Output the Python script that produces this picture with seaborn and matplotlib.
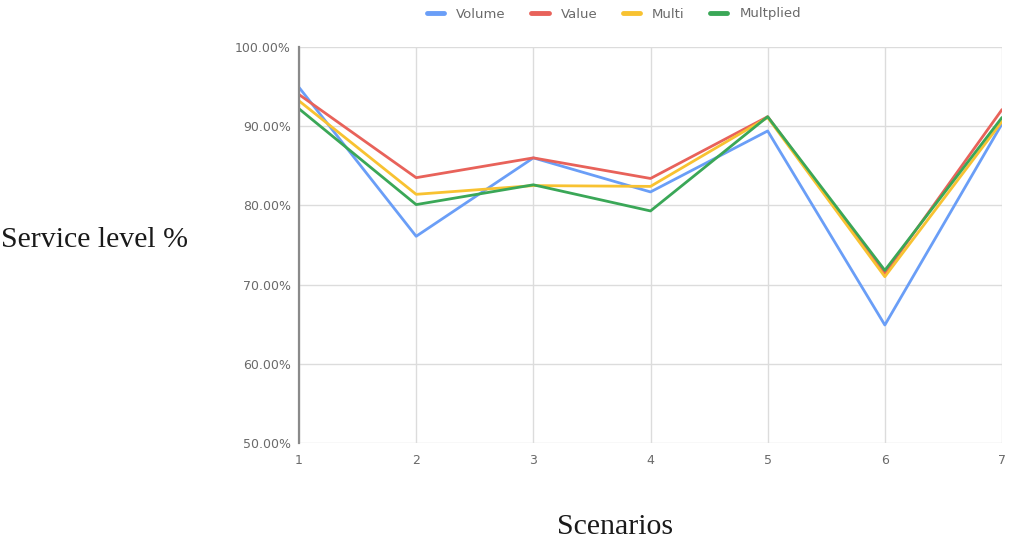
import matplotlib
matplotlib.use("Agg")
import matplotlib.pyplot as plt
import seaborn as sns
import pandas as pd
from matplotlib.ticker import FuncFormatter

scenarios = [1, 2, 3, 4, 5, 6, 7]
volume = [94.9, 76.1, 86.0, 81.7, 89.4, 64.9, 90.3]
value = [94.0, 83.5, 86.0, 83.4, 91.2, 71.4, 92.1]
multi = [93.2, 81.4, 82.5, 82.4, 91.1, 71.0, 90.6]
multplied = [92.2, 80.1, 82.6, 79.3, 91.2, 71.8, 91.1]

series_names = ["Volume", "Value", "Multi", "Multplied"]
colors = ["#6a9ef7", "#e8625a", "#f8c231", "#3aa757"]
y_ticks = [50, 60, 70, 80, 90, 100]

df = pd.DataFrame({"Scenario": scenarios, "Volume": volume, "Value": value,
                   "Multi": multi, "Multplied": multplied})
long = df.melt(id_vars="Scenario", var_name="Series", value_name="Level")

sns.set_theme(style="white")
fig = plt.figure(figsize=(10.13, 5.51), dpi=100)
ax = fig.add_axes([299 / 1013, 1 - 443 / 551, (1002 - 299) / 1013, (443 - 47) / 551])

sns.lineplot(data=long, x="Scenario", y="Level", hue="Series", hue_order=series_names,
             palette=colors, linewidth=2.0, ax=ax, legend=True)

ax.set_xlim(1, 7)
ax.set_ylim(50, 100)
ax.set_xticks(scenarios)
ax.set_yticks(y_ticks)
ax.yaxis.set_major_formatter(FuncFormatter(lambda v, p: f"{v:.2f}%"))
ax.grid(True, color="#dcdcdc", linewidth=1)
ax.set_axisbelow(True)
for s in ["top", "right", "bottom"]:
    ax.spines[s].set_visible(False)
ax.spines["left"].set_color("#8a8a8a")
ax.spines["left"].set_linewidth(1.6)
ax.tick_params(axis="both", length=0, labelsize=9, colors="#6a6a6a", pad=6)
ax.tick_params(axis="x", pad=8)

ax.set_xlabel("")
ax.set_ylabel("")
fig.text(1 / 1013, 1 - 240 / 551, "Service level %", family="Liberation Serif",
         fontsize=21.5, color="#1a1a1a", va="center", ha="left")
fig.text(615 / 1013, 1 - 527 / 551, "Scenarios", family="Liberation Serif",
         fontsize=21.5, color="#1a1a1a", va="center", ha="center")

leg = ax.legend(loc="center", bbox_to_anchor=(614 / 1013, 1 - 14 / 551),
                bbox_transform=fig.transFigure, ncol=4, frameon=False,
                fontsize=9.5, handlelength=1.3, columnspacing=1.95, handletextpad=0.9)
for h in leg.get_lines():
    h.set_linewidth(3.5)
for t in leg.get_texts():
    t.set_color("#6a6a6a")

fig.savefig("out.png", dpi=100, facecolor="white")
